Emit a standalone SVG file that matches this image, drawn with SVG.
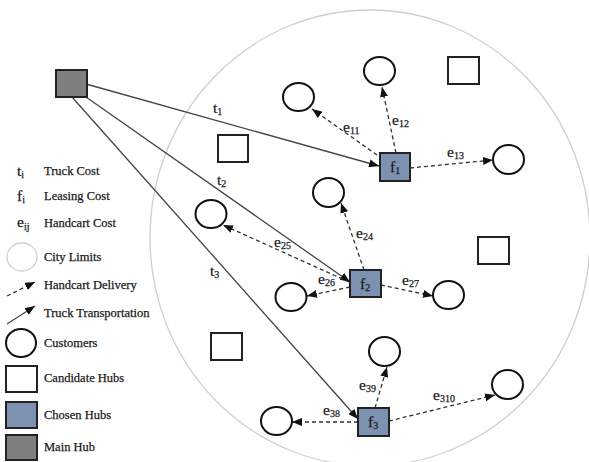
<svg xmlns="http://www.w3.org/2000/svg" width="589" height="462" viewBox="0 0 589 462">
<style>
  text { font-family: "Liberation Serif", "Times New Roman", serif; fill: #1a1a1a; stroke: #1a1a1a; stroke-width: 0.25; }
  .lbl { font-size: 15.5px; }
  .sub { font-size: 10px; }
  .leg { font-size: 12.5px; }
  .cust { fill: #fff; stroke: #111; stroke-width: 2; }
  .cand { fill: #fff; stroke: #222; stroke-width: 2; }
  .chosen { fill: #7d91b0; stroke: #222; stroke-width: 2; }
  .main { fill: #7f7f7f; stroke: #222; stroke-width: 2; }
  .city { fill: none; stroke: #cfcfcf; stroke-width: 1.3; }
  .truck { stroke: #444; stroke-width: 1.3; fill: none; marker-end: url(#arr); }
  .cart { stroke: #333; stroke-width: 1.3; fill: none; stroke-dasharray: 4 3; marker-end: url(#arr); }
</style>
<defs>
  <marker id="arr" markerUnits="userSpaceOnUse" markerWidth="10" markerHeight="8" refX="10" refY="4" orient="auto">
    <path d="M0,0 L10,4 L0,8 z" fill="#111"/>
  </marker>
</defs>
<rect width="589" height="462" fill="#fff"/>

<g id="city-limits">
  <ellipse class="city" cx="370" cy="238" rx="220" ry="228"/>
</g>

<g id="connectors">
  <path class="truck" d="M86,84 L379,166"/>
  <path class="truck" d="M86,97 L350,282"/>
  <path class="truck" d="M72,97 L358,419"/>
  <path class="cart" d="M377,155 L312,109"/>
  <path class="cart" d="M396,153 L382,87"/>
  <path class="cart" d="M410,168 L493,160"/>
  <path class="cart" d="M364,270 L341,203"/>
  <path class="cart" d="M349,282 L223,225"/>
  <path class="cart" d="M350,287 L307,296"/>
  <path class="cart" d="M381,285 L433,296"/>
  <path class="cart" d="M358,422 L292,422"/>
  <path class="cart" d="M375,408 L387,367"/>
  <path class="cart" d="M389,421 L495,395"/>
</g>

<g id="main-hub"><rect class="main" x="56" y="70" width="31" height="27"/></g>

<g id="cand-1"><rect class="cand" x="218" y="135" width="30" height="27"/></g>
<g id="cand-2"><rect class="cand" x="448" y="57" width="31" height="27"/></g>
<g id="cand-3"><rect class="cand" x="478" y="237" width="31" height="27"/></g>
<g id="cand-4"><rect class="cand" x="211" y="333" width="31" height="27"/></g>

<g id="f1"><rect class="chosen" x="380" y="153" width="30" height="28"/><text class="lbl" x="390" y="172">f<tspan class="sub" dy="2">1</tspan></text></g>
<g id="f2"><rect class="chosen" x="350" y="270" width="31" height="27"/><text class="lbl" x="360" y="289">f<tspan class="sub" dy="2">2</tspan></text></g>
<g id="f3"><rect class="chosen" x="358" y="408" width="31" height="28"/><text class="lbl" x="368" y="427">f<tspan class="sub" dy="2">3</tspan></text></g>

<g id="c11"><ellipse class="cust" cx="298.5" cy="97" rx="15.5" ry="14"/></g>
<g id="c12"><ellipse class="cust" cx="379.5" cy="71" rx="15.5" ry="14"/></g>
<g id="c13"><ellipse class="cust" cx="508.5" cy="159.5" rx="15.5" ry="14.5"/></g>
<g id="c24"><ellipse class="cust" cx="328.5" cy="192.5" rx="15.5" ry="14.5"/></g>
<g id="c25"><ellipse class="cust" cx="211" cy="214" rx="15.5" ry="14"/></g>
<g id="c26"><ellipse class="cust" cx="291" cy="297" rx="15.5" ry="14"/></g>
<g id="c27"><ellipse class="cust" cx="448.5" cy="295" rx="15.5" ry="14"/></g>
<g id="c38"><ellipse class="cust" cx="276.5" cy="421" rx="15.5" ry="14"/></g>
<g id="c39"><ellipse class="cust" cx="384.5" cy="351.5" rx="15.5" ry="14.5"/></g>
<g id="c310"><ellipse class="cust" cx="507.5" cy="384.5" rx="15.5" ry="14.5"/></g>

<g id="labels">
  <text class="lbl" x="213" y="113">t<tspan class="sub" dy="2">1</tspan></text>
  <text class="lbl" x="217" y="185">t<tspan class="sub" dy="2">2</tspan></text>
  <text class="lbl" x="210" y="276">t<tspan class="sub" dy="2">3</tspan></text>
  <text class="lbl" x="343" y="132">e<tspan class="sub" dy="2">11</tspan></text>
  <text class="lbl" x="392" y="125">e<tspan class="sub" dy="2">12</tspan></text>
  <text class="lbl" x="447" y="157">e<tspan class="sub" dy="2">13</tspan></text>
  <text class="lbl" x="356" y="238">e<tspan class="sub" dy="2">24</tspan></text>
  <text class="lbl" x="274" y="247">e<tspan class="sub" dy="2">25</tspan></text>
  <text class="lbl" x="318" y="284">e<tspan class="sub" dy="2">26</tspan></text>
  <text class="lbl" x="402" y="285">e<tspan class="sub" dy="2">27</tspan></text>
  <text class="lbl" x="323" y="415">e<tspan class="sub" dy="2">38</tspan></text>
  <text class="lbl" x="359" y="390">e<tspan class="sub" dy="2">39</tspan></text>
  <text class="lbl" x="433" y="400">e<tspan class="sub" dy="2">310</tspan></text>
</g>

<g id="legend">
  <text class="lbl" x="17" y="176">t<tspan class="sub" dy="2">i</tspan></text>
  <text class="leg" x="44" y="175">Truck Cost</text>
  <text class="lbl" x="17" y="201">f<tspan class="sub" dy="2">i</tspan></text>
  <text class="leg" x="44" y="200">Leasing Cost</text>
  <text class="lbl" x="17" y="227">e<tspan class="sub" dy="3">ij</tspan></text>
  <text class="leg" x="44" y="227">Handcart Cost</text>
  <ellipse class="city" cx="22" cy="257" rx="15" ry="14"/>
  <text class="leg" x="44" y="261">City Limits</text>
  <path class="cart" d="M7,296 L35,282"/>
  <text class="leg" x="44" y="289">Handcart Delivery</text>
  <path class="truck" d="M7,324 L35,306"/>
  <text class="leg" x="44" y="317">Truck Transportation</text>
  <ellipse class="cust" cx="21" cy="343" rx="15" ry="14"/>
  <text class="leg" x="44" y="347">Customers</text>
  <rect class="cand" x="6" y="366" width="31" height="26"/>
  <text class="leg" x="44" y="382">Candidate Hubs</text>
  <rect class="chosen" x="6" y="402" width="31" height="26"/>
  <text class="leg" x="44" y="419">Chosen Hubs</text>
  <rect class="main" x="6" y="435" width="31" height="25"/>
  <text class="leg" x="44" y="451">Main Hub</text>
</g>
</svg>
